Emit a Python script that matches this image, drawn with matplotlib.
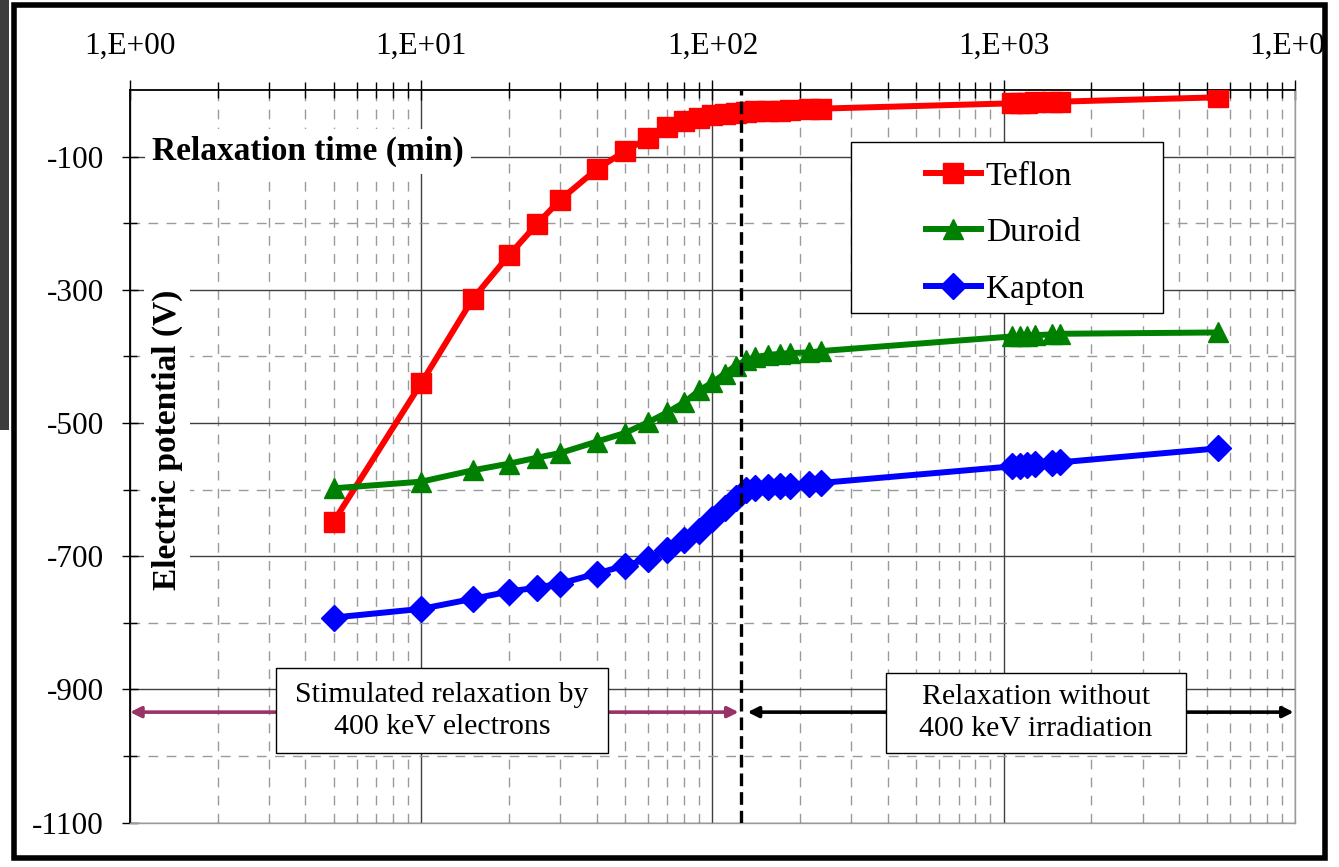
import numpy as np
import matplotlib.pyplot as plt
from matplotlib.ticker import FixedLocator, FuncFormatter, LogLocator, NullFormatter
from matplotlib.patches import Rectangle

plt.rcParams['font.family'] = ['Liberation Serif', 'DejaVu Serif']
plt.rcParams['axes.unicode_minus'] = False

# relaxation time (min)
time = [5, 10, 15, 20, 25, 30, 40, 50, 60, 70, 80, 90, 100, 110, 120, 130, 140,
        155, 170, 185, 215, 235, 1070, 1140, 1200, 1280, 1460, 1560, 5450]

# electric potential (V)
teflon = [-648, -440, -314, -248, -201, -165, -119, -92, -72, -56, -47, -42, -38,
          -36, -34, -33, -32, -31, -31, -30, -29, -28, -20, -19.5, -19, -18.5,
          -18, -17.5, -11]
duroid = [-598, -588, -571, -561, -552, -545, -528, -515, -499, -484, -469, -451,
          -439, -426, -414, -406, -401, -398, -396, -395, -394, -392, -370, -369,
          -369, -368, -367, -366, -364]
kapton = [-792, -779, -764, -753, -747, -741, -726, -714, -704, -690, -676, -662,
          -644, -628, -612, -600, -597, -596, -595, -594, -591, -590, -565, -564,
          -563, -562, -560, -559, -538]

irradiation_end = 125   # min
arrow_level = -934

fig = plt.figure(figsize=(13.39, 8.67), dpi=100)
ax = fig.add_axes([0.0971, 0.0511, 0.8700, 0.8451])

ax.set_xscale('log')
ax.set_xlim(1, 1e4)
ax.set_ylim(-1100, 0)

ax.xaxis.tick_top()
ax.xaxis.set_major_locator(LogLocator(base=10, numticks=10))
ax.xaxis.set_minor_locator(LogLocator(base=10, subs=np.arange(2, 10), numticks=20))
ax.xaxis.set_major_formatter(FuncFormatter(lambda v, p: '1,E+%02d' % round(np.log10(v))))
ax.xaxis.set_minor_formatter(NullFormatter())
ax.yaxis.set_major_locator(FixedLocator(range(-1100, 0, 200)))
ax.yaxis.set_minor_locator(FixedLocator(range(-1000, 0, 200)))

ax.tick_params(axis='x', which='major', direction='inout', length=14, width=1,
               pad=14, labelsize=22.5)
ax.tick_params(axis='x', which='minor', direction='inout', length=12, width=1)
ax.tick_params(axis='y', which='major', direction='inout', length=12, width=1,
               pad=13, labelsize=22.5)
ax.tick_params(axis='y', which='minor', direction='inout', length=10, width=1)

ax.grid(which='major', color='#404040', lw=1, ls='-')
ax.grid(which='minor', color='#9a9a9a', lw=1, ls=(0, (7, 6)))
ax.set_axisbelow(True)

for s in ['top', 'left']:
    ax.spines[s].set_color('black')
    ax.spines[s].set_linewidth(1.3)
for s in ['bottom', 'right']:
    ax.spines[s].set_color('#9a9a9a')
    ax.spines[s].set_linewidth(1)

l1, = ax.plot(time, teflon, color='#ff0000', lw=4.3, marker='s', ms=14.5, zorder=4)
l2, = ax.plot(time, duroid, color='#008000', lw=4.3, marker='^', ms=15, zorder=4)
l3, = ax.plot(time, kapton, color='#0000ff', lw=4.3, marker='D', ms=13, zorder=4)

ax.axvline(irradiation_end, color='black', lw=2.4, ls=(0, (3.8, 1.8)), zorder=6)

# axis titles placed inside the plot, on white
ax.text(0.019, 0.916, 'Relaxation time (min)', transform=ax.transAxes, ha='left',
        va='center', fontsize=24, fontweight='bold', zorder=3,
        bbox=dict(fc='white', ec='none', pad=5))
ax.text(0.0318, 0.522, 'Electric potential (V)', transform=ax.transAxes, rotation=90,
        ha='center', va='center', fontsize=24, fontweight='bold', zorder=3,
        bbox=dict(fc='white', ec='none', pad=5))

# legend box
ax.add_patch(Rectangle((0.619, 0.696), 0.268, 0.233, transform=ax.transAxes,
                       fc='white', ec='black', lw=1, zorder=5))
ax.legend(handles=[l1, l2, l3], labels=['Teflon', 'Duroid', 'Kapton'],
          loc='upper left', bbox_to_anchor=(0.683, 0.903), frameon=False,
          fontsize=24, handlelength=1.65, handletextpad=0.15, labelspacing=0.78,
          borderpad=0, borderaxespad=0).set_zorder(6)

# region arrows
ax.annotate('', xy=(1, arrow_level), xytext=(123, arrow_level),
            arrowprops=dict(arrowstyle='<|-|>', color='#993366', lw=2.6,
                            mutation_scale=16, shrinkA=0, shrinkB=0), zorder=3)
ax.annotate('', xy=(132, arrow_level), xytext=(9900, arrow_level),
            arrowprops=dict(arrowstyle='<|-|>', color='black', lw=2.6,
                            mutation_scale=16, shrinkA=0, shrinkB=0), zorder=3)

ax.add_patch(Rectangle((0.1253, 0.0951), 0.285, 0.116, transform=ax.transAxes,
                       fc='white', ec='black', lw=1, zorder=5))
ax.text(0.2678, 0.1531, 'Stimulated relaxation by\n400 keV electrons',
        transform=ax.transAxes, ha='center', va='center', fontsize=21.5,
        linespacing=1.3, zorder=6)
ax.add_patch(Rectangle((0.6489, 0.0951), 0.2575, 0.1092, transform=ax.transAxes,
                       fc='white', ec='black', lw=1, zorder=5))
ax.text(0.7777, 0.1497, 'Relaxation without\n400 keV irradiation',
        transform=ax.transAxes, ha='center', va='center', fontsize=21.5,
        linespacing=1.3, zorder=6)

# page frame, cut-off strip on the right, bit of photo on the left
fig.add_artist(Rectangle((1327 / 1339, 0), 1, 1, transform=fig.transFigure,
                         fc='white', ec='none', zorder=10))
fig.add_artist(Rectangle((0, 1 - 430 / 867), 9 / 1339, 430 / 867,
                         transform=fig.transFigure, fc='#3c3c3c', ec='none', zorder=10))
fig.add_artist(Rectangle((14 / 1339, 1 - 858 / 867), 1311 / 1339, 853 / 867,
                         transform=fig.transFigure, fill=False, ec='black', lw=4,
                         zorder=11))

fig.savefig('out.png', dpi=100)
